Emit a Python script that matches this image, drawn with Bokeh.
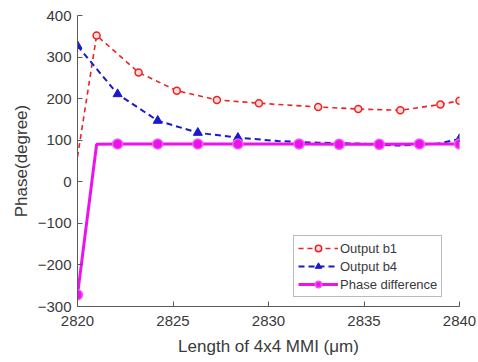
from bokeh.plotting import figure
from bokeh.models import Range1d, Legend, LegendItem, FixedTicker
from bokeh.embed import file_html
from bokeh.resources import INLINE

# Data
b1_x = [2820, 2821, 2823.2, 2825.2, 2827.3, 2829.5, 2832.6, 2834.7, 2836.9, 2839.0, 2840]
b1_y = [60, 352, 263, 219, 197, 189, 180, 175, 172, 186, 195]

b4_x = [2820, 2822.1, 2824.2, 2826.3, 2828.4, 2830.5, 2832.6, 2834.7, 2836.8, 2838.9, 2840]
b4_y = [327, 211, 147, 118, 106, 98, 94, 92, 87, 92, 103]

pd_x = [2820, 2821, 2822.1, 2824.2, 2826.3, 2828.4, 2831.6, 2833.7, 2835.8, 2837.9, 2840]
pd_y = [-272, 90, 91, 91, 91, 91, 91, 90, 90, 91, 91]

x_ticks = [2820, 2825, 2830, 2835, 2840]
y_ticks = [-300, -200, -100, 0, 100, 200, 300, 400]

FONT = "Liberation Sans"
AX = "#5a5a5a"
TXT = "#3a3a3a"

p = figure(width=476, height=360, output_backend="svg", toolbar_location=None,
           x_range=Range1d(2820, 2840), y_range=Range1d(-300, 400),
           min_border_left=77, min_border_right=17, min_border_top=15, min_border_bottom=54)
p.outline_line_color = None
p.xgrid.grid_line_color = None
p.ygrid.grid_line_color = None

# Output b1
r1l = p.line(b1_x, b1_y, line_color="#ee2222", line_width=1.6, line_dash="5 4")
r1m = p.scatter(b1_x[1:], b1_y[1:], marker="circle", size=7, line_color="#ee2222",
                line_width=1.5, fill_color="#ffdada")
# Output b4
r2l = p.line(b4_x, b4_y, line_color="#1a1acc", line_width=2, line_dash="6 4")
r2m = p.scatter(b4_x[:5] + b4_x[-1:], b4_y[:5] + b4_y[-1:], marker="triangle", size=9,
                line_color="#1a1acc", fill_color="#1a1acc")
# Phase difference
r3l = p.line(pd_x, pd_y, line_color="#ee11ee", line_width=3)
pm_x = [pd_x[0]] + pd_x[2:]
pm_y = [pd_y[0]] + pd_y[2:]
r3m = p.scatter(pm_x, pm_y, marker="circle", size=10, line_color="#f060f0",
                line_width=1.5, fill_color="#ee11ee")

legend = Legend(items=[
    LegendItem(label="Output b1", renderers=[r1l, r1m]),
    LegendItem(label="Output b4", renderers=[r2l, r2m]),
    LegendItem(label="Phase difference", renderers=[r3l, r3m]),
], location=(216, 9))
legend.label_text_font = FONT
legend.label_text_font_size = "13px"
legend.label_text_color = TXT
legend.border_line_color = "#777777"
legend.border_line_width = 1
legend.background_fill_alpha = 1
legend.glyph_width = 40
legend.glyph_height = 16
legend.label_height = 16
legend.label_standoff = 2
legend.spacing = 2
legend.padding = 4
legend.margin = 0
legend.label_text_baseline = "middle"
p.add_layout(legend)

for ax in (p.xaxis, p.yaxis):
    ax.axis_line_color = AX
    ax.axis_line_width = 1
    ax.major_tick_line_color = AX
    ax.major_tick_in = 5
    ax.major_tick_out = 0
    ax.minor_tick_line_color = None
    ax.major_label_text_font = FONT
    ax.major_label_text_font_size = "15px"
    ax.major_label_text_color = TXT
    ax.axis_label_text_font = FONT
    ax.axis_label_text_font_size = "17px"
    ax.axis_label_text_font_style = "normal"
    ax.axis_label_text_color = TXT

p.xaxis.ticker = FixedTicker(ticks=x_ticks)
p.yaxis.ticker = FixedTicker(ticks=y_ticks)
p.xaxis.axis_label = "Length of 4x4 MMI (\u03bcm)"
p.yaxis.axis_label = "Phase(degree)"
p.xaxis.major_label_standoff = 9
p.yaxis.major_label_standoff = 6
p.xaxis.axis_label_standoff = 8
p.yaxis.axis_label_standoff = 4

open("out.html", "w").write(file_html(p, INLINE))
